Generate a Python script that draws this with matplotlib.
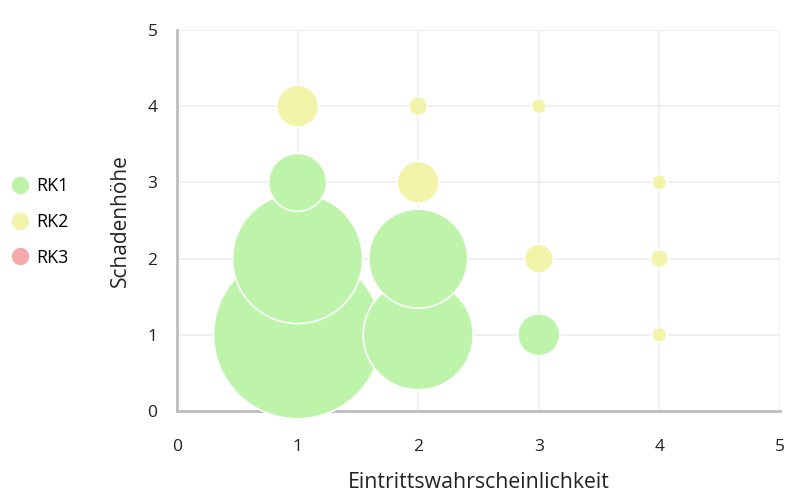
import matplotlib
matplotlib.use("Agg")
import matplotlib.pyplot as plt
from matplotlib.lines import Line2D

plt.rcParams['font.family'] = ['Open Sans', 'DejaVu Sans']

# Data (x = Eintrittswahrscheinlichkeit, y = Schadenhöhe, r = bubble radius in px)
rk1_x = [1, 1, 1, 2, 2, 3]
rk1_y = [1, 2, 3, 1, 2, 1]
rk1_r = [84, 65, 29, 55, 49.5, 21]

rk2_x = [1, 2, 3, 2, 3, 4, 4, 4]
rk2_y = [4, 4, 4, 3, 2, 3, 2, 1]
rk2_r = [21, 9.5, 7.5, 21, 14.5, 7.5, 9, 7.5]

rk3_x = []
rk3_y = []
rk3_r = []

series_names = ['RK1', 'RK2', 'RK3']
colors = ['#bdf4aa', '#f1f4a9', '#f4aaaa']
x_label = 'Eintrittswahrscheinlichkeit'
y_label = 'Schadenhöhe'
ticks = [0, 1, 2, 3, 4, 5]

W, H, DPI = 795, 495, 100
fig = plt.figure(figsize=(W / DPI, H / DPI), dpi=DPI)
L, R, T, B = 177, 780, 30, 411
ax = fig.add_axes([L / W, 1 - B / H, (R - L) / W, (B - T) / H])

px2pt = 72 / DPI


def sizes(rs):
    return [(2 * r * px2pt) ** 2 for r in rs]


for xs, ys, rs, c in [(rk1_x, rk1_y, rk1_r, colors[0]),
                      (rk2_x, rk2_y, rk2_r, colors[1]),
                      (rk3_x, rk3_y, rk3_r, colors[2])]:
    if xs:
        ax.scatter(xs, ys, s=sizes(rs), c=c, edgecolors='white',
                   linewidths=1.2, zorder=3, clip_on=False)

ax.set_xlim(0, 5)
ax.set_ylim(0, 5)
ax.set_xticks(ticks)
ax.set_yticks(ticks)
ax.grid(True, color='#eceef3', linewidth=1.2, zorder=0)
ax.set_axisbelow(True)
for s in ['top', 'right']:
    ax.spines[s].set_visible(False)
for s in ['left', 'bottom']:
    ax.spines[s].set_color('#bdbdbd')
    ax.spines[s].set_linewidth(2)
    ax.spines[s].set_zorder(2)
ax.tick_params(length=0, labelsize=12.5, colors='#222222')
ax.tick_params(axis='x', pad=20)
ax.tick_params(axis='y', pad=14)
ax.set_xlabel(x_label, fontsize=15.3, color='#222222')
ax.set_ylabel(y_label, fontsize=15, color='#222222')
ax.xaxis.label.set_va('center')
ax.yaxis.label.set_va('center')
ax.xaxis.set_label_coords(0.5, (B - 483) / (B - T))
ax.yaxis.set_label_coords((120 - L) / (R - L), 0.5)

handles = [Line2D([], [], marker='o', linestyle='none', markersize=12.5,
                  markerfacecolor=c, markeredgecolor='none') for c in colors]
fig.legend(handles, series_names, loc='center left',
           bbox_to_anchor=(0.0, 1 - 222 / H), frameon=False,
           fontsize=13, handletextpad=0.3, labelspacing=0.98,
           borderaxespad=0.1, handlelength=1.2)

fig.savefig('out.png', dpi=DPI)
